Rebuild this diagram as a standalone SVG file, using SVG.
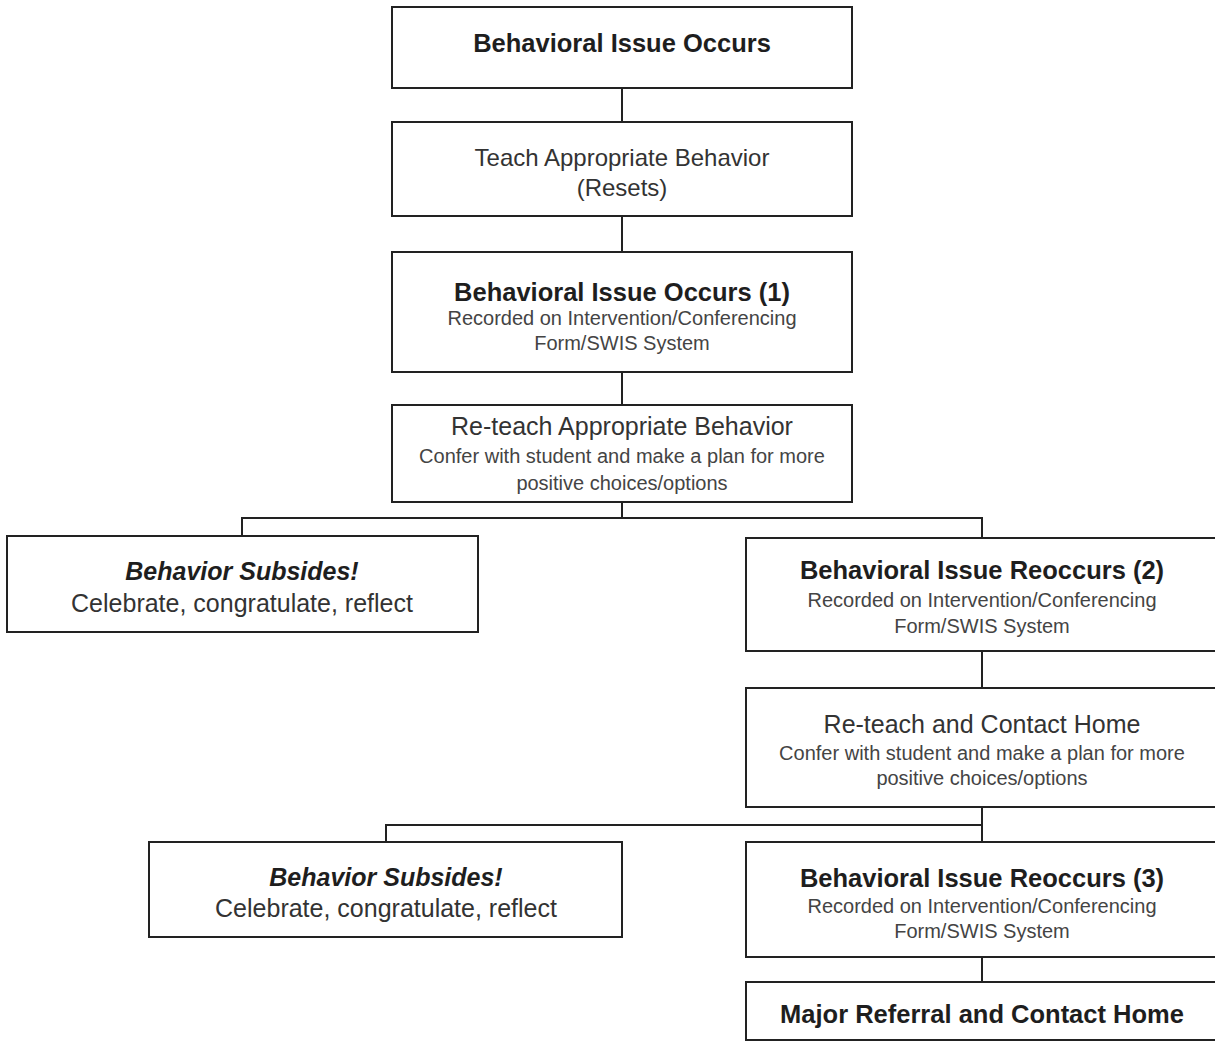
<svg xmlns="http://www.w3.org/2000/svg" width="1215" height="1043" viewBox="0 0 1215 1043">
<style>
.box{fill:#fff;stroke:#222;stroke-width:2}
.con{fill:none;stroke:#222;stroke-width:2}
text{font-family:"Liberation Sans",Arial,sans-serif;text-anchor:middle}
.b{font-weight:bold;font-size:25.5px;fill:#1e1e1e}
.bi{font-weight:bold;font-style:italic;font-size:25px;fill:#1e1e1e}
.r{font-size:24px;fill:#333}
.r25{font-size:25px;fill:#333}
.s{font-size:20px;fill:#444}
</style>
<rect width="1215" height="1043" fill="#fff"/>
<g id="connectors">
<path class="con" d="M622 88V122M622 216V252M622 372V405M622 502V518M242 536V518H982V538M982 651V688M982 807V842M386 842V825H982M982 957V982"/>
</g>
<g id="n1"><rect class="box" x="392" y="7" width="460" height="81"/><text class="b" x="622" y="52">Behavioral Issue Occurs</text></g>
<g id="n2"><rect class="box" x="392" y="122" width="460" height="94"/><text class="r" x="622" y="166">Teach Appropriate Behavior</text><text class="r" x="622" y="196">(Resets)</text></g>
<g id="n3"><rect class="box" x="392" y="252" width="460" height="120"/><text class="b" x="622" y="301">Behavioral Issue Occurs (1)</text><text class="s" x="622" y="325">Recorded on Intervention/Conferencing</text><text class="s" x="622" y="350">Form/SWIS System</text></g>
<g id="n4"><rect class="box" x="392" y="405" width="460" height="97"/><text class="r25" x="622" y="435">Re-teach Appropriate Behavior</text><text class="s" x="622" y="463">Confer with student and make a plan for more</text><text class="s" x="622" y="490">positive choices/options</text></g>
<g id="n5"><rect class="box" x="7" y="536" width="471" height="96"/><text class="bi" x="242" y="580">Behavior Subsides!</text><text class="r25" x="242" y="612">Celebrate, congratulate, reflect</text></g>
<g id="n6"><rect class="box" x="746" y="538" width="474" height="113"/><text class="b" x="982" y="579">Behavioral Issue Reoccurs (2)</text><text class="s" x="982" y="607">Recorded on Intervention/Conferencing</text><text class="s" x="982" y="633">Form/SWIS System</text></g>
<g id="n7"><rect class="box" x="746" y="688" width="474" height="119"/><text class="r25" x="982" y="733">Re-teach and Contact Home</text><text class="s" x="982" y="760">Confer with student and make a plan for more</text><text class="s" x="982" y="785">positive choices/options</text></g>
<g id="n8"><rect class="box" x="149" y="842" width="473" height="95"/><text class="bi" x="386" y="886">Behavior Subsides!</text><text class="r25" x="386" y="917">Celebrate, congratulate, reflect</text></g>
<g id="n9"><rect class="box" x="746" y="842" width="474" height="115"/><text class="b" x="982" y="887">Behavioral Issue Reoccurs (3)</text><text class="s" x="982" y="913">Recorded on Intervention/Conferencing</text><text class="s" x="982" y="938">Form/SWIS System</text></g>
<g id="n10"><rect class="box" x="746" y="982" width="474" height="58"/><text class="b" x="982" y="1023">Major Referral and Contact Home</text></g>
</svg>
